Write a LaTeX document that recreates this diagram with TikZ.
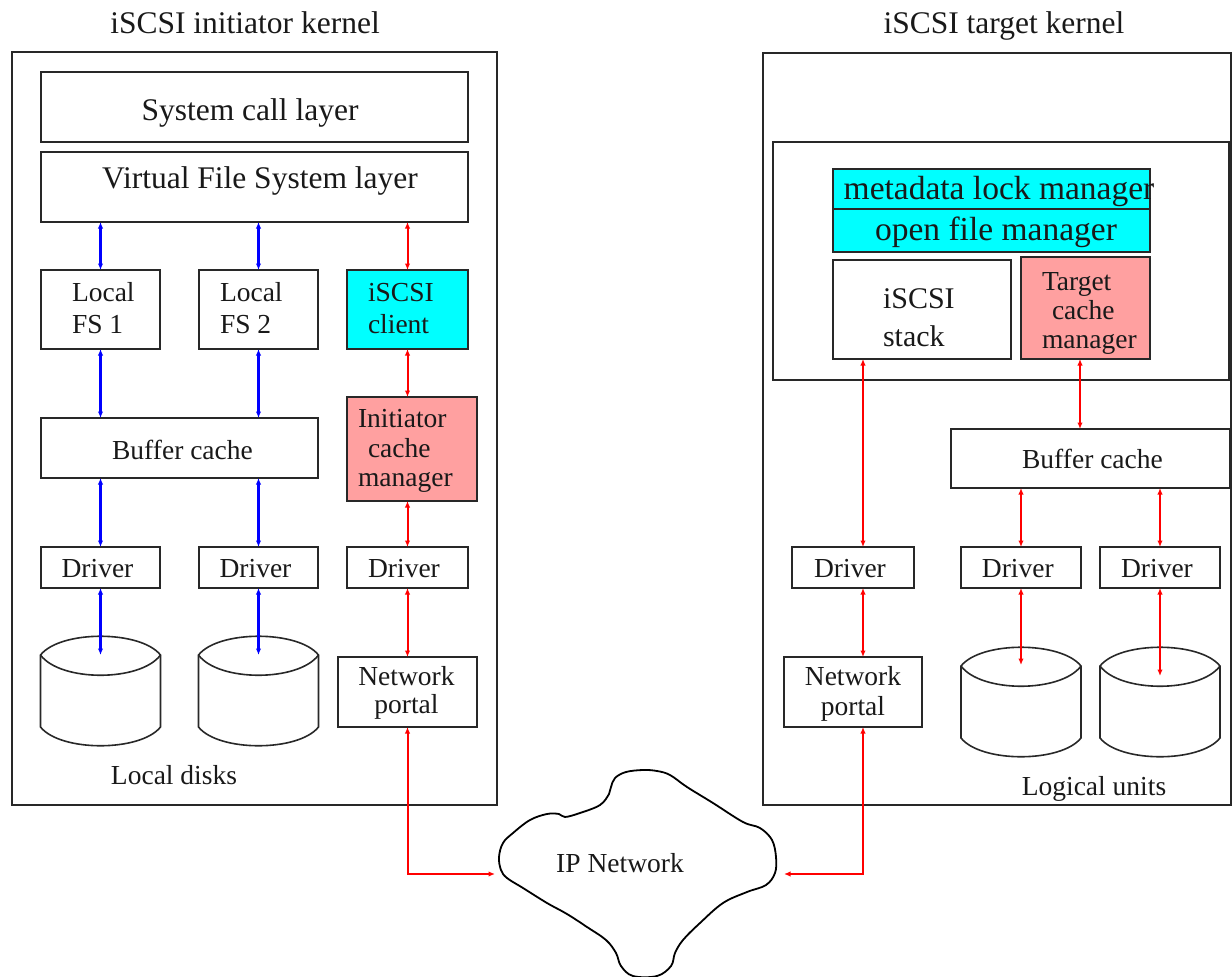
\documentclass[tikz,border=0pt]{standalone}
\usepackage{fontspec}
\setmainfont{Liberation Serif}
\usetikzlibrary{arrows.meta}

\definecolor{clientcyan}{RGB}{0,255,255}
\definecolor{cachepink}{RGB}{255,160,160}
\definecolor{frameink}{RGB}{40,40,40}

% stacked text lines with a fixed line pitch; the node's base is the first line
\newcommand\rowsL[2]{\vtop{\baselineskip=#1\lineskiplimit=-\maxdimen\halign{##\hfil\cr#2\crcr}}}
\newcommand\rowsC[2]{\vtop{\baselineskip=#1\lineskiplimit=-\maxdimen\halign{\hfil##\hfil\cr#2\crcr}}}

% rectangular block from (x1,y1) to (x2,y2): [style]{name}{x1}{y1}{x2}{y2}
\newcommand\blk[6][]{\node[frame,#1,minimum width={#5pt-#3pt},minimum height={#6pt-#4pt}] (#2) at ({(#3+#5)/2},{(#4+#6)/2}) {};}

\tikzset{
  frame/.style={draw=frameink, line width=1.9pt, inner sep=0pt, outer sep=0pt},
  txt/.style={inner sep=0pt, outer sep=0pt, text=black!90, font=\fontsize{27.5}{32}\selectfont},
  big/.style={font=\fontsize{31.5}{36}\selectfont},
  tip/.tip={Latex[length=6.5pt,width=5.5pt]},
  bluelink/.style={draw=blue, line width=2.2pt, tip-tip},
  redlink/.style={draw=red, line width=2pt, tip-tip},
  disk/.pic={
    \draw[frameink, line width=1.6pt]
      (-60,0) .. controls (-40,-25) and (40,-25) .. (60,0) -- (60,72)
      .. controls (40,97) and (-40,97) .. (-60,72) -- cycle;
    \draw[frameink, line width=1.6pt]
      (-60,0) .. controls (-40,27) and (40,27) .. (60,0);
  }
}

\begin{document}
\begin{tikzpicture}[x=1pt,y=-1pt]
\useasboundingbox (0,0) rectangle (1232,977);

% ---------------- initiator side ----------------
\blk{initk}{12}{52}{497}{805}
\blk{sys}{41}{72}{468}{142}
\blk{vfs}{41}{152}{468}{222}
\blk{fs1}{41}{270}{160}{349}
\blk{fs2}{199}{270}{318}{349}
\blk[fill=clientcyan]{cli}{347}{270}{468}{349}
\blk{buf}{41}{418}{318}{478}
\blk[fill=cachepink]{icm}{347}{397}{477}{501}
\blk{drv1}{41}{547}{160}{588}
\blk{drv2}{199}{547}{318}{588}
\blk{drv3}{347}{547}{468}{588}
\blk{portl}{338}{657}{477}{727}

\pic at (100.5,655) {disk};
\pic at (258.5,655) {disk};
\coordinate (dk1) at (100.5,655);
\coordinate (dk2) at (258.5,655);

\node[txt,big,anchor=base] (tinit) at (245,33) {iSCSI initiator kernel};
\node[txt,big,anchor=base] (lsys) at (250,120.7) {System call layer};
\node[txt,big,anchor=base] (lvfs) at (260,188) {Virtual File System layer};
\node[txt,anchor=base west] (lfs1) at (72,301) {\rowsL{32.3pt}{Local\cr FS 1}};
\node[txt,anchor=base west] (lfs2) at (220,301) {\rowsL{32.3pt}{Local\cr FS 2}};
\node[txt,anchor=base west] (lcli) at (368,301) {\rowsL{32pt}{iSCSI\cr client}};
\node[txt,anchor=base] (lbuf) at (182.5,459.3) {Buffer cache};
\node[txt,anchor=base west] (licm) at (358,427.3) {\rowsL{29.7pt}{Initiator\cr\kern10pt cache\cr manager}};
\node[txt,anchor=base] (ldrv1) at (97.5,577.3) {Driver};
\node[txt,anchor=base] (ldrv2) at (255.5,577.3) {Driver};
\node[txt,anchor=base] (ldrv3) at (404,577.3) {Driver};
\node[txt,anchor=base] (lportl) at (406.5,685) {\rowsC{28.3pt}{Network\cr portal}};
\node[txt,anchor=base] (ldisks) at (174,784.3) {Local disks};

% local file system paths
\draw[bluelink] (vfs.south -| fs1.north) -- (fs1.north);
\draw[bluelink] (vfs.south -| fs2.north) -- (fs2.north);
\draw[bluelink] (fs1.south) -- (buf.north -| fs1.south);
\draw[bluelink] (fs2.south) -- (buf.north -| fs2.south);
\draw[bluelink] (buf.south -| drv1.north) -- (drv1.north);
\draw[bluelink] (buf.south -| drv2.north) -- (drv2.north);
\draw[bluelink] (drv1.south) -- (dk1);
\draw[bluelink] (drv2.south) -- (dk2);

% iSCSI path
\draw[redlink] (vfs.south -| cli.north) -- (cli.north);
\draw[redlink] (cli.south) -- (icm.north -| cli.south);
\draw[redlink] (icm.south -| drv3.north) -- (drv3.north);
\draw[redlink] (drv3.south) -- (portl.north -| drv3.south);

% ---------------- target side ----------------
\blk{tgtk}{763}{53}{1231}{805}
\blk{srv}{773}{142}{1229}{380}
\blk[fill=clientcyan]{mlm}{833}{169}{1150}{209}
\blk[fill=clientcyan]{ofm}{833}{209}{1150}{252}
\blk{stk}{833}{260}{1011}{359}
\blk[fill=cachepink]{tcm}{1021}{257}{1150}{359}
\blk{rbuf}{951}{429}{1230}{488}
\blk{rdrv1}{792}{547}{914}{588}
\blk{rdrv2}{961}{547}{1081}{588}
\blk{rdrv3}{1100}{547}{1220}{588}
\blk{portr}{784}{657}{922}{727}

\pic at (1021,666) {disk};
\pic at (1160,666) {disk};
\coordinate (dk3) at (1021,665);
\coordinate (dk4) at (1160,676);
\coordinate (axs) at (863,0);
\coordinate (axt) at (1080,0);

\node[txt,big,anchor=base] (ttgt) at (1004,33) {iSCSI target kernel};
\node[txt,anchor=base,font=\fontsize{33.5}{38}\selectfont] (lmlm) at (999,199.3) {metadata lock manager};
\node[txt,anchor=base,font=\fontsize{33.5}{38}\selectfont] (lofm) at (996,240) {open file manager};
\node[txt,anchor=base west,font=\fontsize{30}{36}\selectfont] (lstk) at (883,308.3) {\rowsL{38.4pt}{iSCSI\cr stack}};
\node[txt,anchor=base west] (ltcm) at (1042,290) {\rowsL{29.2pt}{Target\cr\kern10pt cache\cr manager}};
\node[txt,anchor=base] (lrbuf) at (1092.5,468.3) {Buffer cache};
\node[txt,anchor=base] (lrdrv1) at (850,577.7) {Driver};
\node[txt,anchor=base] (lrdrv2) at (1017.8,577.7) {Driver};
\node[txt,anchor=base] (lrdrv3) at (1157,577.7) {Driver};
\node[txt,anchor=base] (lportr) at (853,685) {\rowsC{30pt}{Network\cr portal}};
\node[txt,anchor=base] (lunits) at (1094,795) {Logical units};

\draw[redlink] (stk.south -| axs) -- (rdrv1.north -| axs);
\draw[redlink] (rdrv1.south -| axs) -- (portr.north -| axs);
\draw[redlink] (tcm.south -| axt) -- (rbuf.north -| axt);
\draw[redlink] (rbuf.south -| rdrv2.north) -- (rdrv2.north);
\draw[redlink] (rbuf.south -| rdrv3.north) -- (rdrv3.north);
\draw[redlink] (rdrv2.south) -- (dk3);
\draw[redlink] (rdrv3.south) -- (dk4);

% ---------------- IP network cloud ----------------
\draw[black, line width=1.8pt] plot[smooth cycle, tension=0.6] coordinates {
  (643,770) (626,772) (615,778) (611,787) (609,794) (600,805) (580,813)
  (565,817) (559,814) (547,814) (530,820) (513,833) (503,843) (499,857)
  (501,870) (507,878) (523,888) (547,903) (567,914) (587,927) (606,940)
  (616,953) (621,966) (633,976) (657,976) (671,966) (675,953) (683,940)
  (700,923) (723,903) (747,892) (766,885) (775,873) (776,857) (772,840)
  (760,828) (743,822) (713,803) (687,787) (670,775) (657,771)};
\node[txt,anchor=base] (ipnet) at (620,872.7) {IP Network};
\coordinate (cloudL) at (495,874);
\coordinate (cloudR) at (784,874);

\draw[redlink] (portl.south -| drv3.south) |- (cloudL);
\draw[redlink] (portr.south -| axs) |- (cloudR);
\end{tikzpicture}
\end{document}
